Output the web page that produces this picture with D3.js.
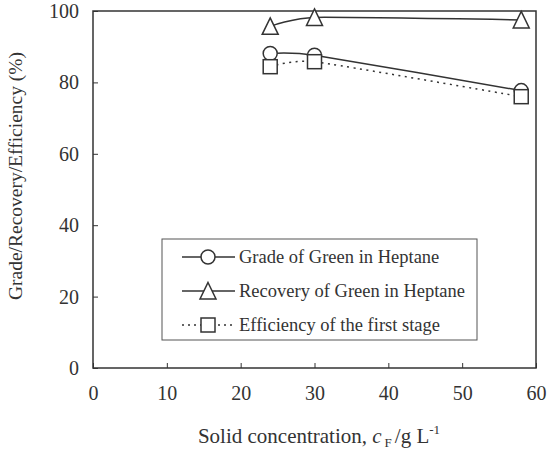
<!DOCTYPE html>
<html>
<head>
<meta charset="utf-8">
<script src="https://cdn.jsdelivr.net/npm/d3@7"></script>
<style>
  body { margin: 0; background: #fff; }
  text { font-family: "Liberation Serif", "DejaVu Serif", serif; fill: #333; }
</style>
</head>
<body>
<script>
// data
const conc = [24, 30, 58];
const grade = [88.1, 87.6, 77.7];
const recovery = [95.7, 98.2, 97.5];
const efficiency = [84.4, 85.8, 76.0];

const xTicks = [0, 10, 20, 30, 40, 50, 60];
const yTicks = [0, 20, 40, 60, 80, 100];

const legendLabels = [
  "Grade of Green in Heptane",
  "Recovery of Green in Heptane",
  "Efficiency of the first stage"
];

const w = 550, h = 453;
const margin = {top: 11, right: 14, bottom: 85, left: 93};
const ink = "#333";

const x = d3.scaleLinear().domain([0, 60]).range([margin.left, w - margin.right]);
const y = d3.scaleLinear().domain([0, 100]).range([h - margin.bottom, margin.top]);

const svg = d3.select("body").append("svg")
  .attr("width", w)
  .attr("height", h);

// axes, ticks pointing inward
const xAxis = d3.axisBottom(x).tickValues(xTicks).tickSize(-5).tickPadding(18);
const yAxis = d3.axisLeft(y).tickValues(yTicks).tickSize(-5).tickPadding(14);

const gx = svg.append("g")
  .attr("transform", "translate(0," + y(0) + ")")
  .call(xAxis);
const gy = svg.append("g")
  .attr("transform", "translate(" + x(0) + ",0)")
  .call(yAxis);

[gx, gy].forEach(g => {
  g.attr("font-family", null);
  g.select(".domain").remove();
  g.selectAll("line").attr("stroke", ink).attr("stroke-width", 1);
  g.selectAll("text").attr("font-size", 20).attr("fill", ink);
});

// frame
svg.append("rect")
  .attr("x", x(0)).attr("y", y(100))
  .attr("width", x(60) - x(0)).attr("height", y(0) - y(100))
  .attr("fill", "none").attr("stroke", ink).attr("stroke-width", 1.5);

// marker shapes
const circle = g => g.append("circle").attr("r", 7);
const square = g => g.append("rect").attr("x", -7).attr("y", -7).attr("width", 14).attr("height", 14);
const triangle = g => g.append("path").attr("d", "M0,-8.5L8,8L-8,8Z");

const series = [
  {vals: grade, marker: circle, dash: null},
  {vals: recovery, marker: triangle, dash: null},
  {vals: efficiency, marker: square, dash: "2,4.5"}
];

// smoothed lines like the original spreadsheet
const line = d3.line()
  .x((d, i) => x(conc[i]))
  .y(d => y(d))
  .curve(d3.curveCardinal.tension(0.5));

series.forEach(s => {
  svg.append("path")
    .attr("d", line(s.vals))
    .attr("fill", "none")
    .attr("stroke", ink)
    .attr("stroke-width", 1.5)
    .attr("stroke-dasharray", s.dash);
});

series.forEach(s => {
  svg.append("g").selectAll("g")
    .data(s.vals)
    .join("g")
    .attr("transform", (d, i) => "translate(" + x(conc[i]) + "," + y(d) + ")")
    .each(function() {
      s.marker(d3.select(this))
        .attr("fill", "#fff").attr("stroke", ink).attr("stroke-width", 1.5);
    });
});

// legend
const lg = svg.append("g");
lg.append("rect")
  .attr("x", 162).attr("y", 239).attr("width", 315).attr("height", 101)
  .attr("fill", "#fff").attr("stroke", "#555").attr("stroke-width", 1);

series.forEach((s, i) => {
  const cy = 257 + i * 34;
  const row = lg.append("g").attr("transform", "translate(0," + cy + ")");
  row.append("line")
    .attr("x1", 182).attr("x2", 235)
    .attr("stroke", ink).attr("stroke-width", 1.5)
    .attr("stroke-dasharray", s.dash ? "2,4" : null);
  const m = row.append("g").attr("transform", "translate(208,0)");
  s.marker(m).attr("fill", "#fff").attr("stroke", ink).attr("stroke-width", 1.5);
  row.append("text")
    .attr("x", 239).attr("y", 6)
    .attr("font-size", 18.5)
    .text(legendLabels[i]);
});

// axis titles
const xt = svg.append("text")
  .attr("x", 319).attr("y", 443)
  .attr("text-anchor", "middle")
  .attr("font-size", 21);
xt.append("tspan").text("Solid concentration, ");
xt.append("tspan").attr("font-style", "italic").text("c");
xt.append("tspan").attr("font-size", 13).attr("dy", 4).attr("dx", 3).text("F");
xt.append("tspan").attr("dy", -4).attr("dx", 3).text("/g L");
xt.append("tspan").attr("font-size", 13).attr("dy", -9).text("-1");

svg.append("text")
  .attr("transform", "translate(22,176) rotate(-90)")
  .attr("text-anchor", "middle")
  .attr("font-size", 19.5)
  .text("Grade/Recovery/Efficiency (%)");
</script>
</body>
</html>
